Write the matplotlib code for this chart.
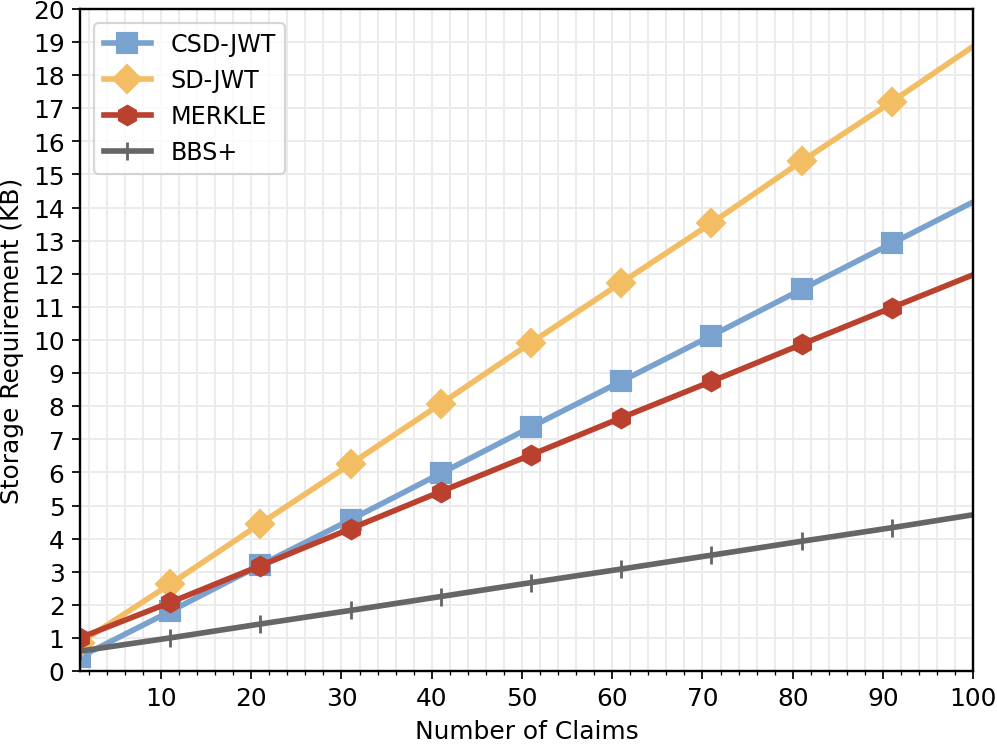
import numpy as np
import matplotlib
matplotlib.use("Agg")
import matplotlib.pyplot as plt
from matplotlib.ticker import MultipleLocator

# Numero de claims (marcadores cada 10, ultimo punto en 100)
claims = [1, 11, 21, 31, 41, 51, 61, 71, 81, 91, 100]

csd_jwt = [0.42, 1.80, 3.20, 4.57, 5.97, 7.37, 8.75, 10.13, 11.53, 12.92, 14.17]
sd_jwt = [0.85, 2.62, 4.45, 6.25, 8.07, 9.92, 11.73, 13.53, 15.40, 17.20, 18.87]
merkle = [1.00, 2.07, 3.18, 4.30, 5.42, 6.53, 7.65, 8.75, 9.87, 10.98, 11.97]
bbs_plus = [0.60, 1.00, 1.42, 1.83, 2.25, 2.67, 3.08, 3.50, 3.92, 4.33, 4.72]

series = [
    ("CSD-JWT", csd_jwt, "#7aa2cf", "s"),
    ("SD-JWT", sd_jwt, "#f2bd63", "D"),
    ("MERKLE", merkle, "#b9412d", "h"),
    ("BBS+", bbs_plus, "#666666", "|"),
]

plt.rcParams["font.size"] = 11.5
plt.rcParams["axes.linewidth"] = 1.1

fig, ax = plt.subplots(figsize=(6.4, 4.78), dpi=155.8)

marks = list(range(len(claims) - 1))
for label, vals, color, marker in series:
    ax.plot(claims, vals, color=color, marker=marker, markevery=marks,
            linewidth=2.6, markersize=9 if marker != "|" else 8,
            markeredgewidth=1.3 if marker == "|" else 1,
            label=label)

ax.set_xlim(1, 100)
ax.set_ylim(0, 20)
ax.xaxis.set_major_locator(MultipleLocator(10))
ax.xaxis.set_minor_locator(MultipleLocator(2))
ax.yaxis.set_major_locator(MultipleLocator(1))
ax.grid(which="both", color="#ebebeb", linewidth=0.9)
ax.set_axisbelow(True)

ax.set_xlabel("Number of Claims")
ax.set_ylabel("Storage Requirement (KB)")
ax.legend(loc="upper left", borderaxespad=0.6, fontsize=11)

plt.subplots_adjust(left=0.08, right=0.976, top=0.987, bottom=0.098)
plt.savefig("out.png")
